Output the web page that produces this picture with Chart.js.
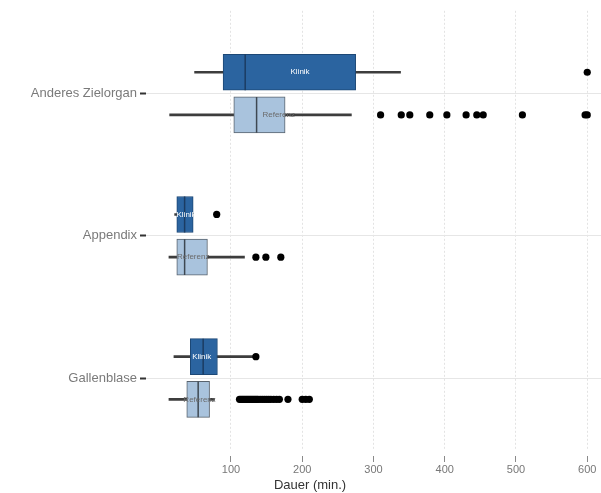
<!DOCTYPE html>
<html>
<head>
<meta charset="utf-8">
<script src="https://cdn.jsdelivr.net/npm/chart.js@4"></script>
<style>
html,body{margin:0;padding:0;background:#fff;}
#wrap{width:601px;height:493px;}
</style>
</head>
<body>
<div id="wrap"><canvas id="c" width="601" height="493"></canvas></div>
<script>
const categories = ['Anderes Zielorgan', 'Appendix', 'Gallenblase'];
const seriesNames = ['Klinik', 'Referenz'];
const xTicks = [100, 200, 300, 400, 500, 600];

const klinikMin    = [49, 21, 20];
const klinikQ1     = [89, 24, 43];
const klinikMedian = [120, 35, 61];
const klinikQ3     = [275, 47, 81];
const klinikMax    = [338, 47, 133];
const klinikMean   = [197, 37, 59];
const klinikOutliers = [[600], [80], [135]];

const referenzMin    = [14, 13, 13];
const referenzQ1     = [104, 24, 38];
const referenzMedian = [136, 35, 54];
const referenzQ3     = [176, 67, 70];
const referenzMax    = [269, 119, 77];
const referenzMean   = [167, 47, 56];
const referenzOutliers = [
  [310, 339, 351, 379, 403, 430, 445, 454, 509, 597, 600],
  [135, 149, 170],
  [112, 114, 116, 118, 120, 122, 124, 126, 128, 130, 132, 134, 136, 138, 141, 144, 147, 150, 153, 156, 160, 164, 168, 180, 200, 205, 210]
];

// layout constants
const OFF = 0.15;     // sub-row offset in category units
const HALF = 0.126;   // half box height in category units

const groups = [
  {name: seriesNames[0], min: klinikMin, q1: klinikQ1, med: klinikMedian, q3: klinikQ3, max: klinikMax, mean: klinikMean, out: klinikOutliers, off: -OFF,
   fill: '#2b64a0', border: '#1d4876', medColor: '#1b3c62', text: '#ffffff'},
  {name: seriesNames[1], min: referenzMin, q1: referenzQ1, med: referenzMedian, q3: referenzQ3, max: referenzMax, mean: referenzMean, out: referenzOutliers, off: OFF,
   fill: '#a9c3dd', border: '#59636e', medColor: '#3e4852', text: '#6a6a6a'}
];

const datasets = [];
groups.forEach(g => {
  datasets.push({
    type: 'bar', indexAxis: 'y', grouped: false, order: 4,
    data: categories.map((c, i) => ({x: [g.min[i], g.max[i]], y: i + g.off})),
    backgroundColor: '#3d3d3d', borderWidth: 0, barThickness: 2
  });
  datasets.push({
    type: 'bar', indexAxis: 'y', grouped: false, order: 3,
    data: categories.map((c, i) => ({x: [g.q1[i], g.q3[i]], y: i + g.off})),
    backgroundColor: g.fill, borderColor: g.border, borderWidth: 1, borderSkipped: false, barThickness: 36
  });
  const medPts = [];
  categories.forEach((c, i) => {
    medPts.push({x: g.med[i], y: i + g.off - HALF});
    medPts.push({x: g.med[i], y: i + g.off + HALF});
    medPts.push({x: null, y: null});
  });
  datasets.push({
    type: 'line', order: 2, data: medPts, borderColor: g.medColor, borderWidth: 1.5,
    pointRadius: 0, spanGaps: false, fill: false
  });
  const outPts = [];
  categories.forEach((c, i) => g.out[i].forEach(v => outPts.push({x: v, y: i + g.off})));
  datasets.push({
    type: 'line', order: 1, data: outPts, showLine: false, clip: false,
    pointRadius: 3.6, pointBackgroundColor: '#000', pointBorderWidth: 0, borderColor: '#000'
  });
});

const labelPlugin = {
  id: 'labels',
  afterDatasetsDraw(chart) {
    const ctx = chart.ctx, xs = chart.scales.x, ys = chart.scales.y;
    ctx.save();
    ctx.font = '8px "Liberation Sans", Arial, sans-serif';
    ctx.textAlign = 'center';
    ctx.textBaseline = 'middle';
    groups.forEach(g => {
      ctx.fillStyle = g.text;
      categories.forEach((c, i) => {
        ctx.fillText(g.name, xs.getPixelForValue(g.mean[i]), ys.getPixelForValue(i + g.off));
      });
    });
    ctx.fillStyle = '#333';
    ctx.font = '13px "Liberation Sans", Arial, sans-serif';
    ctx.fillText('Dauer (min.)', 310, 485);
    ctx.restore();
  }
};

new Chart(document.getElementById('c'), {
  type: 'bar',
  data: {datasets},
  plugins: [labelPlugin],
  options: {
    responsive: false,
    animation: false,
    layout: {autoPadding: false, padding: {top: 10, right: 0, left: 0, bottom: 0}},
    plugins: {legend: {display: false}, tooltip: {enabled: false}},
    scales: {
      x: {
        type: 'linear', position: 'bottom', min: -19.2, max: 619.3, offset: false,
        afterBuildTicks: s => { s.ticks = xTicks.map(v => ({value: v})); },
        afterFit: s => { s.height = 43; s.paddingRight = 0; s.paddingLeft = 0; },
        grid: {offset: false, color: '#e3e3e3', lineWidth: 1, tickLength: 12, tickColor: '#8a8a8a', tickBorderDash: [0, 6, 6, 40]},
        border: {display: false, dash: [2, 2]},
        ticks: {color: '#777', font: {size: 11, family: '"Liberation Sans", Arial, sans-serif'}, padding: 1, maxRotation: 0}
      },
      y: {
        type: 'linear', position: 'left', reverse: true, min: -0.582, max: 2.506, offset: false,
        afterBuildTicks: s => { s.ticks = categories.map((c, i) => ({value: i})); },
        afterFit: s => { s.width = 146; },
        grid: {offset: false, color: '#e6e6e6', lineWidth: 1, tickLength: 6, tickColor: '#333', tickWidth: 2},
        border: {display: false},
        ticks: {color: '#7a7a7a', font: {size: 13, family: '"Liberation Sans", Arial, sans-serif'}, padding: 3,
                callback: v => categories[v]}
      }
    }
  }
});
</script>
</body>
</html>
